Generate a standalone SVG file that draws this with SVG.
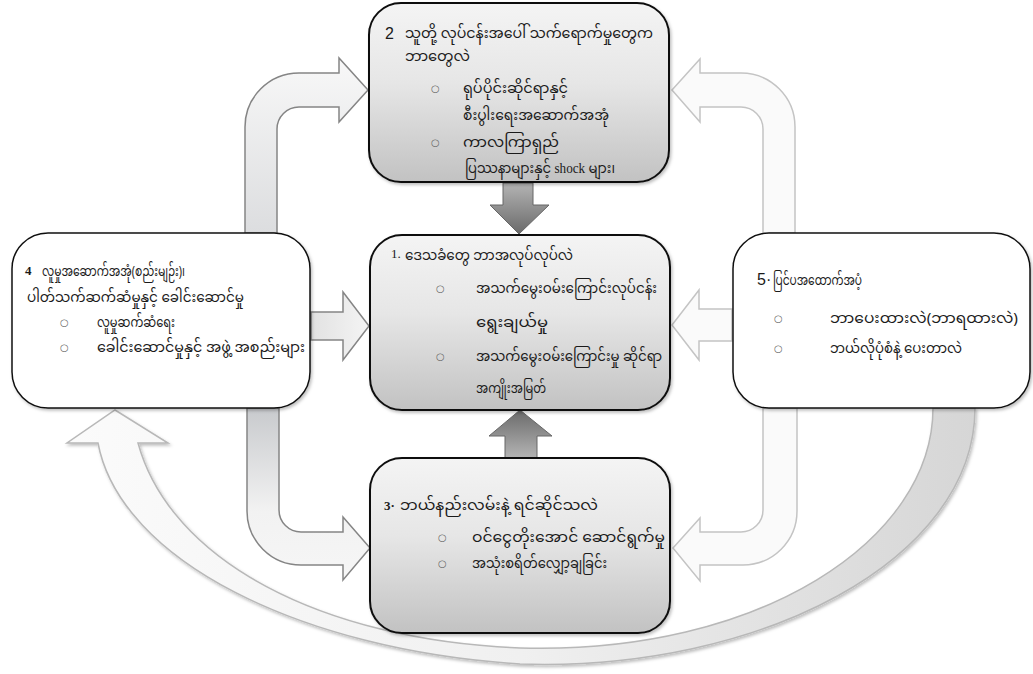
<svg xmlns="http://www.w3.org/2000/svg" width="1033" height="674" viewBox="0 0 1033 674">
<defs>
<linearGradient id="boxGrad" x1="0" y1="0" x2="0" y2="1">
<stop offset="0" stop-color="#f4f4f4"/><stop offset="0.45" stop-color="#e6e6e6"/><stop offset="1" stop-color="#c2c2c2"/>
</linearGradient>
<linearGradient id="darkDown" x1="0" y1="0" x2="0" y2="1">
<stop offset="0" stop-color="#b4b4b4"/><stop offset="1" stop-color="#6a6a6a"/>
</linearGradient>
<linearGradient id="darkUp" x1="0" y1="1" x2="0" y2="0">
<stop offset="0" stop-color="#b4b4b4"/><stop offset="1" stop-color="#6a6a6a"/>
</linearGradient>
<linearGradient id="tlGrad" x1="0" y1="0" x2="0" y2="1">
<stop offset="0" stop-color="#f8f8f8"/><stop offset="1" stop-color="#dcdddf"/>
</linearGradient>
<linearGradient id="blGrad" x1="0" y1="0" x2="0" y2="1">
<stop offset="0" stop-color="#c8cacd"/><stop offset="0.6" stop-color="#f2f2f2"/><stop offset="1" stop-color="#f6f6f6"/>
</linearGradient>
<linearGradient id="lGrad" x1="0" y1="0" x2="1" y2="0">
<stop offset="0" stop-color="#e2e2e2"/><stop offset="1" stop-color="#f4f4f4"/>
</linearGradient>
<linearGradient id="curveGrad" x1="0" y1="0" x2="1" y2="0">
<stop offset="0" stop-color="#fbfbfb"/><stop offset="0.5" stop-color="#f0f0f0"/><stop offset="1" stop-color="#d6d6d6"/>
</linearGradient>
<filter id="shadow" x="-10%" y="-10%" width="130%" height="130%">
<feDropShadow dx="1.5" dy="2" stdDeviation="1.5" flood-color="#000" flood-opacity="0.25"/>
</filter>
</defs>
<style>
.box{stroke:#111;stroke-width:2;filter:url(#shadow)}
.gray{fill:url(#boxGrad)}
.white{fill:#fff;stroke-width:1.5}
.my{font-family:"Noto Sans Myanmar","Padauk","Myanmar Text","Noto Sans",sans-serif;font-size:15px;fill:#1a1a1a}
.num{font-family:"Liberation Serif",serif;font-size:13px;fill:#1a1a1a}
.numS{font-family:"Liberation Sans",sans-serif;font-size:16px;fill:#1a1a1a}
.bul{font-family:"DejaVu Sans",sans-serif;font-size:10px;fill:#666}
.ser{font-family:"Liberation Serif",serif;font-size:15px;fill:#1a1a1a}
.arrowLight{stroke:#c4c4c4;stroke-width:1.5;fill:#fafafa}
.arrowMid{stroke:#858585;stroke-width:1.5}
</style>
<g id="connectors">
<path id="curved-arrow" d="M 98 443 C 120 560 300 650 520 664 C 760 672 975 560 975 408 L 933 408 C 933 540 760 655 520 648 C 320 640 170 560 138 443 L 168 443 L 115 410 L 67 443 Z" fill="url(#curveGrad)" stroke="#b8b8b8" stroke-width="1.5" filter="url(#shadow)"/>
<path id="arrow-4-2" class="arrowMid" fill="url(#tlGrad)" d="M 245 233 L 245 127 A 54 54 0 0 1 299 73 L 339 73 L 339 58 L 368 90 L 339 122 L 339 107 L 299 107 A 22 22 0 0 0 277 129 L 277 233 Z"/>
<path id="arrow-5-2" class="arrowLight" d="M 795 233 L 795 127 A 54 54 0 0 0 741 73 L 700 73 L 700 59 L 672 90 L 700 122 L 700 107 L 741 107 A 22 22 0 0 1 763 129 L 763 233 Z"/>
<path id="arrow-4-3" class="arrowMid" fill="url(#blGrad)" d="M 247 408 L 247 511 A 54 54 0 0 0 301 565 L 343 565 L 343 580 L 370 548 L 343 517 L 343 532 L 301 532 A 22 22 0 0 1 279 510 L 279 408 Z"/>
<path id="arrow-5-3" class="arrowLight" d="M 797 408 L 797 511 A 54 54 0 0 1 743 565 L 700 565 L 700 581 L 673 548 L 700 518 L 700 532 L 741 532 A 22 22 0 0 0 763 510 L 763 408 Z"/>
<path id="arrow-4-1" class="arrowMid" fill="url(#lGrad)" stroke="#999" d="M 311 312 L 343 312 L 343 292 L 369 326 L 343 360 L 343 340 L 311 340 Z"/>
<path id="arrow-5-1" class="arrowLight" d="M 732 309 L 699 309 L 699 290 L 672 325 L 699 360 L 699 341 L 732 341 Z"/>
<path id="arrow-2-1" fill="url(#darkDown)" stroke="#666" stroke-width="1" d="M 503 183 L 533 183 L 533 205 L 549 205 L 519 234 L 490 205 L 503 205 Z"/>
<path id="arrow-3-1" fill="url(#darkUp)" stroke="#666" stroke-width="1" d="M 505 458 L 505 436 L 489 436 L 520 410 L 552 436 L 537 436 L 537 458 Z"/>
</g>
<g id="node-2">
<rect class="box gray" x="369" y="3" width="300" height="179" rx="32"/>
<text class="numS" x="385" y="39">2</text>
<text class="my" x="405" y="38" textLength="248" lengthAdjust="spacingAndGlyphs">သူတို့ လုပ်ငန်းအပေါ် သက်ရောက်မှုတွေက</text>
<text class="my" x="405" y="61" textLength="65" lengthAdjust="spacingAndGlyphs">ဘာတွေလဲ</text>
<text class="bul" x="431" y="92">○</text>
<text class="my" x="463" y="93" textLength="105" lengthAdjust="spacingAndGlyphs">ရုပ်ပိုင်းဆိုင်ရာနှင့်</text>
<text class="my" x="463" y="120" textLength="146" lengthAdjust="spacingAndGlyphs">စီးပွါးရေးအဆောက်အအုံ</text>
<text class="bul" x="431" y="146">○</text>
<text class="my" x="463" y="147" textLength="96" lengthAdjust="spacingAndGlyphs">ကာလကြာရှည်</text>
<text class="my" x="465" y="173" textLength="150" lengthAdjust="spacingAndGlyphs">ပြဿနာများနှင့် <tspan class="ser">shock</tspan> များ၊</text>
</g>
<g id="node-1">
<rect class="box gray" x="370" y="235" width="300" height="175" rx="32"/>
<text class="num" x="391" y="258">1.</text>
<text class="my" x="405" y="260" textLength="168" lengthAdjust="spacingAndGlyphs">ဒေသခံတွေ ဘာအလုပ်လုပ်လဲ</text>
<text class="bul" x="436" y="292">○</text>
<text class="my" x="476" y="293" textLength="181" lengthAdjust="spacingAndGlyphs">အသက်မွေးဝမ်းကြောင်းလုပ်ငန်း</text>
<text class="my" x="476" y="327" textLength="72" lengthAdjust="spacingAndGlyphs">ရွေးချယ်မှု</text>
<text class="bul" x="436" y="360">○</text>
<text class="my" x="476" y="361" textLength="186" lengthAdjust="spacingAndGlyphs">အသက်မွေးဝမ်းကြောင်းမှု ဆိုင်ရာ</text>
<text class="my" x="476" y="393" textLength="70" lengthAdjust="spacingAndGlyphs">အကျိုးအမြတ်</text>
</g>
<g id="node-4">
<rect class="box white" x="12" y="233" width="298" height="175" rx="36"/>
<text class="num" x="25" y="275" font-size="14" font-weight="bold">4</text>
<text class="my" x="42" y="276" textLength="143" lengthAdjust="spacingAndGlyphs">လူမှုအဆောက်အအုံ(စည်းမျဉ်း)၊</text>
<text class="my" x="27" y="302" textLength="217" lengthAdjust="spacingAndGlyphs">ပါတ်သက်ဆက်ဆံမှုနှင့် ခေါင်းဆောင်မှု</text>
<text class="bul" x="60" y="326">○</text>
<text class="my" x="97" y="327" textLength="78" lengthAdjust="spacingAndGlyphs">လူမှုဆက်ဆံရေး</text>
<text class="bul" x="60" y="351">○</text>
<text class="my" x="97" y="352" textLength="208" lengthAdjust="spacingAndGlyphs">ခေါင်းဆောင်မှုနှင့် အဖွဲ့ အစည်းများ</text>
</g>
<g id="node-5">
<rect class="box white" x="733" y="233" width="297" height="175" rx="36"/>
<text class="numS" x="757" y="285" font-size="15">5·</text>
<text class="my" x="773" y="285" textLength="89" lengthAdjust="spacingAndGlyphs">ပြင်ပအထောက်အပံ့</text>
<text class="bul" x="774" y="322">○</text>
<text class="my" x="830" y="323" textLength="188" lengthAdjust="spacingAndGlyphs">ဘာပေးထားလဲ(ဘာရထားလဲ)</text>
<text class="bul" x="774" y="352">○</text>
<text class="my" x="830" y="353" textLength="132" lengthAdjust="spacingAndGlyphs">ဘယ်လိုပုံစံနဲ့ ပေးတာလဲ</text>
</g>
<g id="node-3">
<rect class="box gray" x="370" y="458" width="300" height="175" rx="32"/>
<text class="num" x="384" y="510" font-weight="bold">3·</text>
<text class="my" x="400" y="510" textLength="198" lengthAdjust="spacingAndGlyphs">ဘယ်နည်းလမ်းနဲ့ ရင်ဆိုင်သလဲ</text>
<text class="bul" x="438" y="541">○</text>
<text class="my" x="472" y="542" textLength="193" lengthAdjust="spacingAndGlyphs">ဝင်ငွေတိုးအောင် ဆောင်ရွက်မှု</text>
<text class="bul" x="438" y="567">○</text>
<text class="my" x="472" y="568" textLength="135" lengthAdjust="spacingAndGlyphs">အသုံးစရိတ်လျှော့ချခြင်း</text>
</g>
</svg>
